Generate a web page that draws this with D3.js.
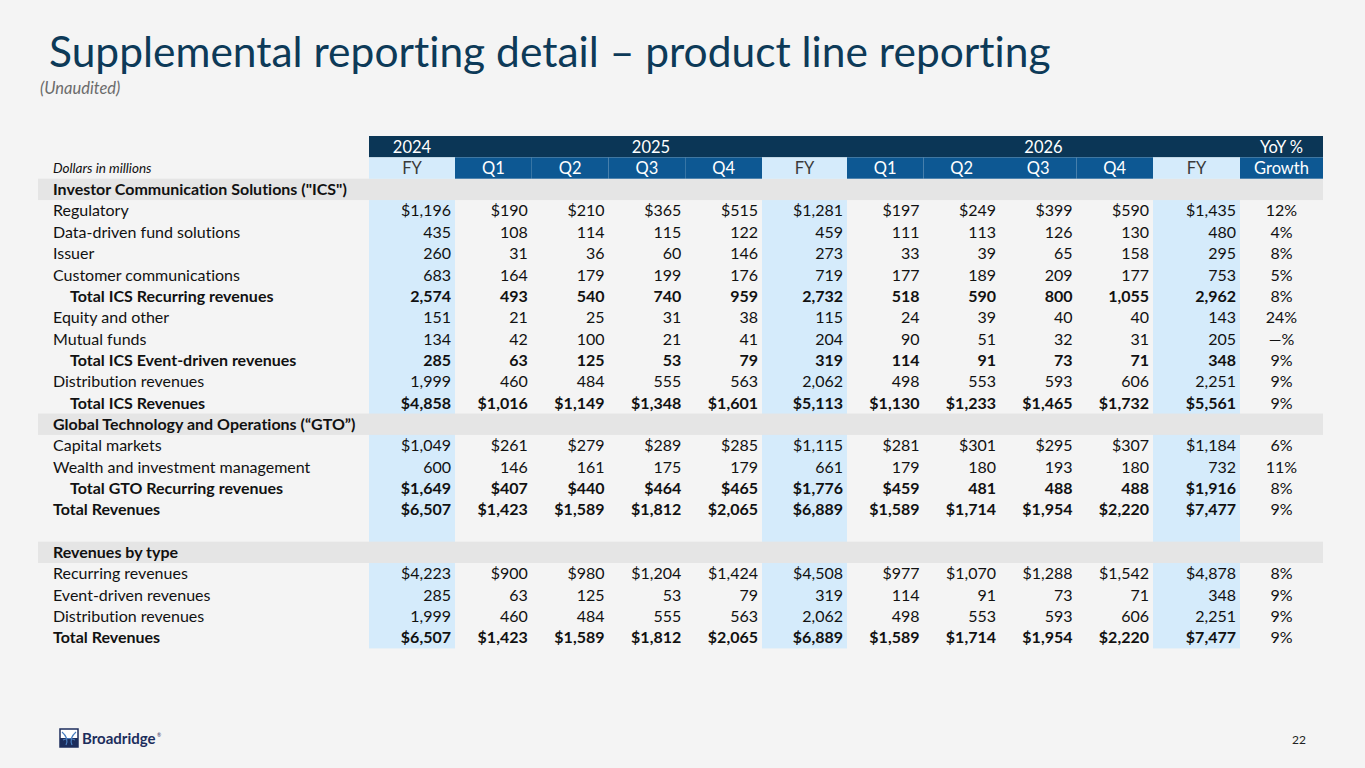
<!DOCTYPE html>
<html>
<head>
<meta charset="utf-8">
<script src="https://cdn.jsdelivr.net/npm/d3@7"></script>
<style>
  html, body { margin: 0; padding: 0; background: #f4f4f4; }
  svg { display: block; font-family: Lato, "Open Sans", sans-serif; font-variant-ligatures: none; }
</style>
</head>
<body>
<div id="chart"></div>
<script>
// column headers
const yearGroups = [
  { label: '2024', from: 0, to: 0 },
  { label: '2025', from: 1, to: 5 },
  { label: '2026', from: 6, to: 10 },
  { label: 'YoY %', from: 11, to: 11 }
];
const colLabels = ['FY', 'Q1', 'Q2', 'Q3', 'Q4', 'FY', 'Q1', 'Q2', 'Q3', 'Q4', 'FY', 'Growth'];

// row labels and kind: sec = section band, row = plain, tot = indented bold, totl = bold flush, gap = empty
const rowLabels = [
  'Investor Communication Solutions ("ICS")',
  'Regulatory',
  'Data-driven fund solutions',
  'Issuer',
  'Customer communications',
  'Total ICS Recurring revenues',
  'Equity and other',
  'Mutual funds',
  'Total ICS Event-driven revenues',
  'Distribution revenues',
  'Total ICS Revenues',
  'Global Technology and Operations (\u201cGTO\u201d)',
  'Capital markets',
  'Wealth and investment management',
  'Total GTO Recurring revenues',
  'Total Revenues',
  '',
  'Revenues by type',
  'Recurring revenues',
  'Event-driven revenues',
  'Distribution revenues',
  'Total Revenues'
];
const rowKinds = ['sec', 'row', 'row', 'row', 'row', 'tot', 'row', 'row', 'tot', 'row', 'tot',
  'sec', 'row', 'row', 'tot', 'totl', 'gap', 'sec', 'row', 'row', 'row', 'totl'];

// values per row: 2024 FY, 2025 Q1-Q4, FY, 2026 Q1-Q4, FY
const rowValues = [
  null,
  [1196, 190, 210, 365, 515, 1281, 197, 249, 399, 590, 1435],
  [435, 108, 114, 115, 122, 459, 111, 113, 126, 130, 480],
  [260, 31, 36, 60, 146, 273, 33, 39, 65, 158, 295],
  [683, 164, 179, 199, 176, 719, 177, 189, 209, 177, 753],
  [2574, 493, 540, 740, 959, 2732, 518, 590, 800, 1055, 2962],
  [151, 21, 25, 31, 38, 115, 24, 39, 40, 40, 143],
  [134, 42, 100, 21, 41, 204, 90, 51, 32, 31, 205],
  [285, 63, 125, 53, 79, 319, 114, 91, 73, 71, 348],
  [1999, 460, 484, 555, 563, 2062, 498, 553, 593, 606, 2251],
  [4858, 1016, 1149, 1348, 1601, 5113, 1130, 1233, 1465, 1732, 5561],
  null,
  [1049, 261, 279, 289, 285, 1115, 281, 301, 295, 307, 1184],
  [600, 146, 161, 175, 179, 661, 179, 180, 193, 180, 732],
  [1649, 407, 440, 464, 465, 1776, 459, 481, 488, 488, 1916],
  [6507, 1423, 1589, 1812, 2065, 6889, 1589, 1714, 1954, 2220, 7477],
  null,
  null,
  [4223, 900, 980, 1204, 1424, 4508, 977, 1070, 1288, 1542, 4878],
  [285, 63, 125, 53, 79, 319, 114, 91, 73, 71, 348],
  [1999, 460, 484, 555, 563, 2062, 498, 553, 593, 606, 2251],
  [6507, 1423, 1589, 1812, 2065, 6889, 1589, 1714, 1954, 2220, 7477]
];
// YoY growth (%), null where shown as "—%"
const rowGrowth = [null, 12, 4, 8, 5, 8, 24, null, 9, 9, 9, null, 6, 11, 8, 9, null, null, 8, 9, 9, 9];
// which cells carry a "$" sign
const allCols = d3.range(11);
const rowDollar = [[], allCols, [], [], [], [], [], [], [], [], allCols,
  [], allCols, [], [0, 1, 2, 3, 4, 5, 6, 10], allCols, [], [], allCols, [], [], allCols];

const width = 1365, height = 768;
const fyCols = [0, 5, 10];
const colWidths = [86, 76.75, 76.75, 76.75, 76.75, 85, 76.5, 76.5, 76.5, 76.5, 87, 83];
const tableLeft = 369;
const colEdges = [tableLeft, ...d3.cumsum(colWidths).map(d => tableLeft + d)];
const x = d3.scaleOrdinal().domain(d3.range(12)).range(colEdges.slice(0, 12));
const w = i => colWidths[i];

const nRows = 2 + rowLabels.length;
const y = d3.scaleBand().domain(d3.range(nRows)).range([136, 136 + nRows * 21.35]);
const rh = y.bandwidth();

const fmt = d3.format(',');
const bodySize = '16px';

const svg = d3.select('#chart').append('svg')
  .attr('width', width).attr('height', height)
  .attr('viewBox', `0 0 ${width} ${height}`);

svg.append('rect').attr('width', width).attr('height', height).attr('fill', '#f4f4f4');

// title
svg.append('text')
  .attr('x', 49).attr('y', 67)
  .attr('fill', '#0d3a58')
  .style('font-size', '42.5px')
  .text('Supplemental reporting detail \u2013 product line reporting');

svg.append('text')
  .attr('x', 40).attr('y', 94)
  .attr('fill', '#6b6b6b')
  .style('font-size', '16.5px').style('font-style', 'italic')
  .text('(Unaudited)');

// FY column shading, body rows
const body = svg.append('g');
fyCols.forEach(c => {
  body.append('rect')
    .attr('x', x(c)).attr('width', w(c))
    .attr('y', y(2)).attr('height', y(nRows - 1) + rh - y(2))
    .attr('fill', '#d5ebfb');
});

// section bands
body.selectAll('rect.sec')
  .data(rowKinds.map((k, i) => ({ k, i })).filter(d => d.k === 'sec'))
  .join('rect')
  .attr('class', 'sec')
  .attr('x', 38).attr('width', colEdges[12] - 38)
  .attr('y', d => y(d.i + 2)).attr('height', rh)
  .attr('fill', '#e5e5e5');

// header row 1
const head = svg.append('g');
head.append('rect')
  .attr('x', tableLeft).attr('width', colEdges[12] - tableLeft)
  .attr('y', y(0)).attr('height', rh)
  .attr('fill', '#0b3656');
head.selectAll('text.yr')
  .data(yearGroups)
  .join('text')
  .attr('class', 'yr')
  .attr('x', d => (x(d.from) + x(d.to) + w(d.to)) / 2)
  .attr('y', y(0) + rh / 2).attr('dy', '0.36em')
  .attr('text-anchor', 'middle')
  .attr('fill', '#fff')
  .style('font-size', '16.5px')
  .text(d => d.label);

// header row 2
head.selectAll('rect.col')
  .data(colLabels.map((l, i) => ({ l, i })))
  .join('rect')
  .attr('class', 'col')
  .attr('x', d => x(d.i)).attr('width', d => w(d.i))
  .attr('y', y(1)).attr('height', rh)
  .attr('fill', d => fyCols.includes(d.i) ? '#d5ebfb' : '#0d5893');
head.selectAll('text.col')
  .data(colLabels.map((l, i) => ({ l, i })))
  .join('text')
  .attr('class', 'col')
  .attr('x', d => x(d.i) + w(d.i) / 2)
  .attr('y', y(1) + rh / 2).attr('dy', '0.36em')
  .attr('text-anchor', 'middle')
  .attr('fill', d => fyCols.includes(d.i) ? '#3a3a3a' : '#fff')
  .style('font-size', '16.5px')
  .text(d => d.l);
head.append('text')
  .attr('x', 53).attr('y', y(1) + rh / 2).attr('dy', '0.36em')
  .attr('fill', '#111')
  .style('font-size', '13.5px').style('font-style', 'italic')
  .text('Dollars in millions');

// row labels
const rows = rowLabels.map((label, i) => ({
  label, i, kind: rowKinds[i], vals: rowValues[i], g: rowGrowth[i], dollar: rowDollar[i]
}));
const bold = k => k === 'sec' || k === 'tot' || k === 'totl';

svg.append('g').selectAll('text')
  .data(rows)
  .join('text')
  .attr('x', d => d.kind === 'tot' ? 70 : 53)
  .attr('y', d => y(d.i + 2) + rh / 2).attr('dy', '0.36em')
  .attr('fill', '#111')
  .style('font-size', bodySize)
  .style('font-weight', d => bold(d.kind) ? 700 : 400)
  .text(d => d.label);

// value cells
const cells = rows.filter(d => d.vals).flatMap(d => d.vals.map((v, c) => ({
  v, c, i: d.i, kind: d.kind, $: d.dollar.includes(c)
})));
svg.append('g').selectAll('text')
  .data(cells)
  .join('text')
  .attr('x', d => x(d.c) + w(d.c) - 4)
  .attr('y', d => y(d.i + 2) + rh / 2).attr('dy', '0.36em')
  .attr('text-anchor', 'end')
  .attr('fill', '#111')
  .style('font-size', bodySize)
  .style('font-weight', d => bold(d.kind) ? 700 : 400)
  .text(d => (d.$ ? '$' : '') + fmt(d.v));

// growth column
svg.append('g').selectAll('text')
  .data(rows.filter(d => d.vals))
  .join('text')
  .attr('x', x(11) + w(11) / 2)
  .attr('y', d => y(d.i + 2) + rh / 2).attr('dy', '0.36em')
  .attr('text-anchor', 'middle')
  .attr('fill', '#111')
  .style('font-size', bodySize)
  .text(d => d.g == null ? '\u2014%' : d.g + '%');

// footer: logo + page number
const logo = svg.append('g').attr('transform', 'translate(60,729)');
logo.append('rect').attr('width', 18).attr('height', 18).attr('fill', '#fff').attr('stroke', '#1c2d5c').attr('stroke-width', 1.5);
logo.append('rect').attr('y', 9).attr('width', 18).attr('height', 9).attr('fill', '#1c2d5c');
logo.append('path').attr('d', 'M2,3 Q9,9 6,16 M16,3 Q9,9 12,16 M3,11 Q9,8 15,11')
  .attr('fill', 'none').attr('stroke', '#4a7fc0').attr('stroke-width', 1.2);
logo.append('text').attr('x', 22).attr('y', 15)
  .attr('fill', '#1c2d5c').style('font-size', '15px').style('font-weight', 700)
  .text('Broadridge');
logo.append('text').attr('x', 97).attr('y', 8)
  .attr('fill', '#1c2d5c').style('font-size', '5px').text('\u00ae');

svg.append('text')
  .attr('x', 1306).attr('y', 744).attr('text-anchor', 'end')
  .attr('fill', '#222').style('font-size', '12px')
  .text('22');
</script>
</body>
</html>
